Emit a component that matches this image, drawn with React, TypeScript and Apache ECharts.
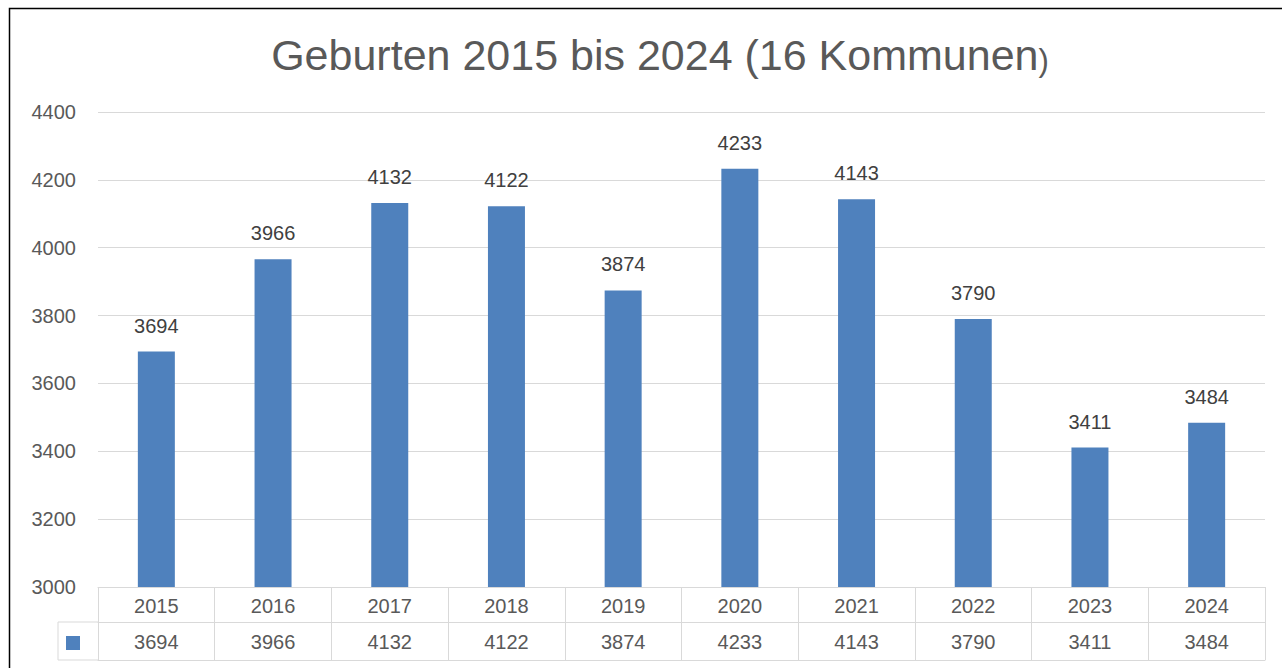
import React, { useEffect, useRef } from "react";
import * as echarts from "echarts";

const years = ["2015", "2016", "2017", "2018", "2019", "2020", "2021", "2022", "2023", "2024"];
const births = [3694, 3966, 4132, 4122, 3874, 4233, 4143, 3790, 3411, 3484];
const titleMain = "Geburten 2015 bis 2024 (16 Kommunen";
const titleEnd = ")";

const FONT = "'Liberation Sans', Arial, sans-serif";
const GRID_LEFT = 98;
const GRID_RIGHT = 17;
const GRID_TOP = 112;
const GRID_BOTTOM = 81;
const LINE = "#D9D9D9";

export default function App() {
  const ref = useRef<HTMLDivElement>(null);
  useEffect(() => {
    if (!ref.current) return;
    const chart = echarts.init(ref.current, null, { renderer: "svg" });
    const axisY = 668 - GRID_BOTTOM;
    chart.setOption({
      animation: false,
      backgroundColor: "#ffffff",
      title: {
        text: "{a|" + titleMain + "}{b|" + titleEnd + "}",
        left: 655,
        top: 28,
        textAlign: "center",
        textStyle: {
          rich: {
            a: { fontFamily: FONT, fontSize: 43, fontWeight: "normal", color: "#595959" },
            b: { fontFamily: FONT, fontSize: 31, fontWeight: "normal", color: "#595959", verticalAlign: "bottom" },
          },
        },
      },
      legend: {
        left: 66,
        top: 636,
        padding: 0,
        itemWidth: 14,
        itemHeight: 14,
        icon: "rect",
        formatter: () => "",
        selectedMode: false,
        data: ["Geburten"],
      },
      grid: { left: GRID_LEFT, right: GRID_RIGHT, top: GRID_TOP, bottom: GRID_BOTTOM, containLabel: false },
      xAxis: [
        {
          type: "category",
          data: years,
          position: "bottom",
          axisLine: { show: true, lineStyle: { color: LINE, width: 1 } },
          axisTick: { show: true, length: 73, lineStyle: { color: LINE, width: 1 } },
          axisLabel: { color: "#595959", fontFamily: FONT, fontSize: 20, margin: 9 },
        },
        {
          type: "category",
          data: births.map((v) => String(v)),
          position: "bottom",
          offset: 35,
          axisLine: { show: true, lineStyle: { color: LINE, width: 1 } },
          axisTick: { show: false },
          axisLabel: { color: "#595959", fontFamily: FONT, fontSize: 20, margin: 10 },
        },
        {
          type: "category",
          data: years,
          position: "bottom",
          offset: 73,
          axisLine: { show: true, lineStyle: { color: LINE, width: 1 } },
          axisTick: { show: false },
          axisLabel: { show: false },
        },
      ],
      yAxis: {
        type: "value",
        min: 3000,
        max: 4400,
        interval: 200,
        axisLine: { show: false },
        axisTick: { show: false },
        splitLine: { lineStyle: { color: LINE, width: 1 } },
        axisLabel: {
          color: "#595959",
          fontFamily: FONT,
          fontSize: 20,
          margin: 22,
          formatter: (v: number) => String(v),
        },
      },
      series: [
        {
          name: "Geburten",
          type: "bar",
          data: births,
          barWidth: 37,
          itemStyle: { color: "#4F81BD" },
          label: {
            show: true,
            position: "top",
            distance: 16,
            color: "#404040",
            fontFamily: FONT,
            fontSize: 20,
          },
        },
      ],
      graphic: [
        {
          type: "rect",
          shape: { x: 9.5, y: 8.5, width: 1400, height: 800 },
          style: { fill: "none", stroke: "#000000", lineWidth: 1.5 },
          silent: true,
        },
        { type: "line", shape: { x1: 58, y1: axisY + 35, x2: GRID_LEFT, y2: axisY + 35 }, style: { stroke: LINE, lineWidth: 1 } },
        { type: "line", shape: { x1: 58, y1: axisY + 73, x2: GRID_LEFT, y2: axisY + 73 }, style: { stroke: LINE, lineWidth: 1 } },
        { type: "line", shape: { x1: 58, y1: axisY + 35, x2: 58, y2: axisY + 73 }, style: { stroke: LINE, lineWidth: 1 } },
      ],
    });
    return () => chart.dispose();
  }, []);
  return (
    <div
      ref={ref}
      style={{ position: "absolute", left: 0, top: 0, width: 1282, height: 668 }}
    />
  );
}
